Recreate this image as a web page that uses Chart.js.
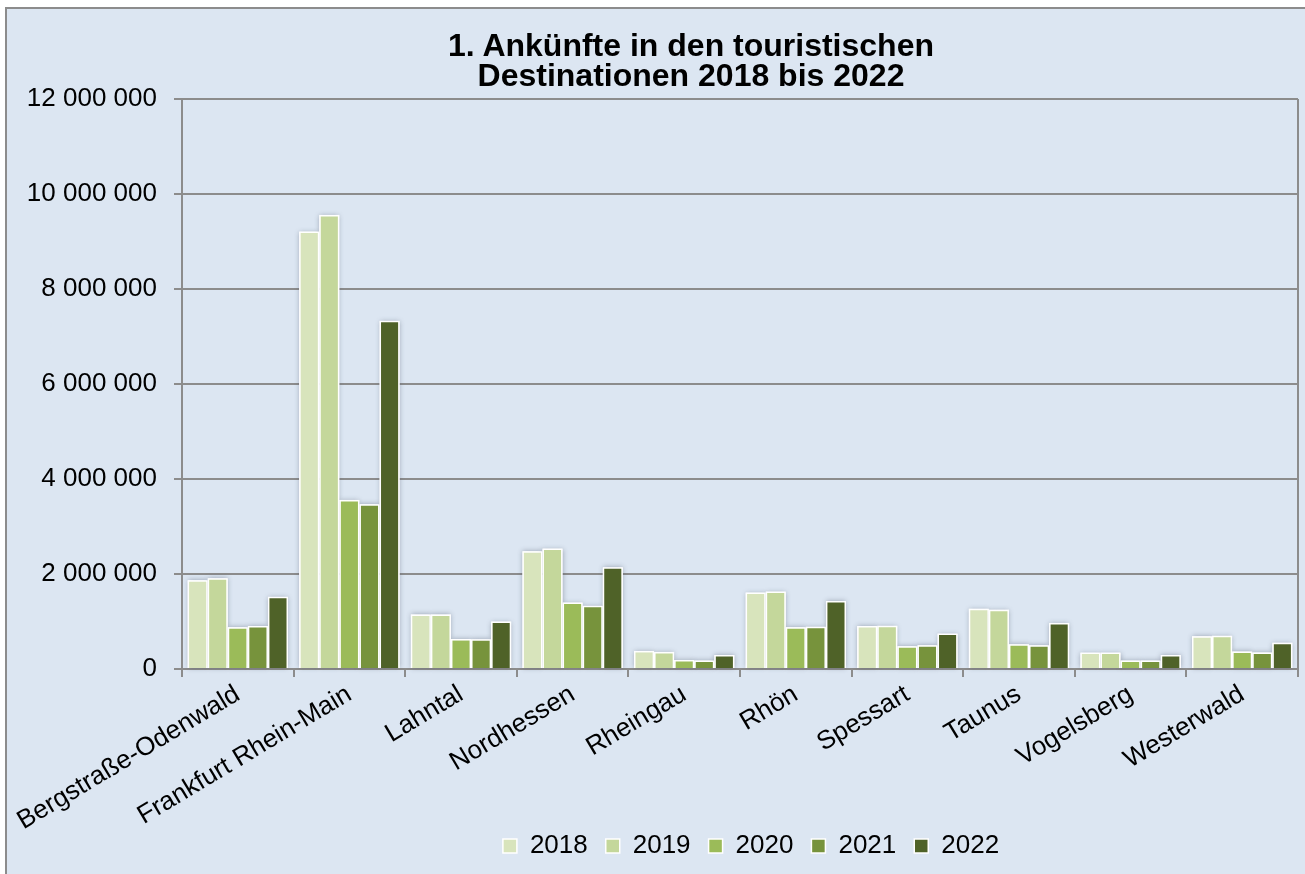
<!DOCTYPE html>
<html><head><meta charset="utf-8">
<script src="https://cdn.jsdelivr.net/npm/chart.js@4"></script>
<style>
html,body{margin:0;padding:0;background:#fff;width:1305px;height:874px;overflow:hidden;}
#frame{position:absolute;left:5px;top:7px;width:1340px;height:900px;background:#DCE6F2;border-left:2px solid #8c8c8c;border-top:2px solid #8c8c8c;}
#wrap{position:absolute;left:0;top:0;width:1305px;height:874px;}
#title{position:absolute;left:0;width:1382px;top:30px;text-align:center;font:bold 32px 'Liberation Sans',Arial,sans-serif;line-height:30px;color:#000;}
</style></head><body>
<div id="frame"></div>
<div id="wrap"><canvas id="c" width="1305" height="874"></canvas></div>
<div id="title">1. Ankünfte in den touristischen<br>Destinationen 2018 bis 2022</div>
<script>
const categories = ['Bergstraße-Odenwald','Frankfurt Rhein-Main','Lahntal','Nordhessen','Rheingau','Rhön','Spessart','Taunus','Vogelsberg','Westerwald'];
const seriesNames = ['2018','2019','2020','2021','2022'];
const v2018 = [1870000, 9210000, 1150000, 2480000, 380000, 1610000, 905000, 1270000, 345000, 690000];
const v2019 = [1910000, 9560000, 1150000, 2535000, 360000, 1630000, 910000, 1250000, 345000, 700000];
const v2020 = [880000, 3560000, 630000, 1400000, 190000, 880000, 480000, 520000, 180000, 370000];
const v2021 = [905000, 3470000, 625000, 1330000, 180000, 890000, 500000, 500000, 180000, 350000];
const v2022 = [1520000, 7330000, 1000000, 2140000, 295000, 1430000, 745000, 970000, 295000, 555000];
const yTickValues = [0, 2000000, 4000000, 6000000, 8000000, 10000000, 12000000];

const colors = ['#D8E4BC','#C4D79B','#9BBB59','#77933C','#4F6228'];
const seriesValues = [v2018, v2019, v2020, v2021, v2022];
const GRID = '#8c8c8c';
const FONT = "'Liberation Sans', Arial, sans-serif";

function fmt(v){ return String(v).replace(/\B(?=(\d{3})+(?!\d))/g, ' '); }

const plotBorder = {
  id: 'plotBorder',
  afterLayout(chart){
    const lg = chart.legend; if (lg){ lg.left += 11; lg.right += 11; }
    const xs = chart.scales.x; if (xs) xs.bottom = chart.height;
  },
  beforeDatasetsDraw(chart){
    const ctx = chart.ctx;
    ctx.save();
    ctx.shadowColor = 'rgba(70,80,100,0.45)';
    ctx.shadowBlur = 5;
    ctx.shadowOffsetX = 0; ctx.shadowOffsetY = 0;
    ctx.fillStyle = '#ffffff';
    chart.data.datasets.forEach((d, i) => {
      const meta = chart.getDatasetMeta(i);
      meta.data.forEach(el => {
        const p = el.getProps(['x','y','base','width'], true);
        ctx.fillRect(p.x - p.width/2, p.y, p.width, p.base - p.y);
      });
    });
    ctx.restore();
  },
  afterDraw(chart){
    const a = chart.chartArea, ctx = chart.ctx;
    ctx.save();
    ctx.strokeStyle = GRID; ctx.lineWidth = 2;
    ctx.beginPath(); ctx.moveTo(a.right, a.top); ctx.lineTo(a.right, a.bottom); ctx.stroke();
    ctx.restore();
  }
};

new Chart(document.getElementById('c'), {
  type: 'bar',
  data: {
    labels: categories,
    datasets: seriesNames.map((n,i)=>({
      label: n,
      data: seriesValues[i],
      backgroundColor: colors[i],
      borderColor: '#ffffff',
      borderWidth: 1.5,
      categoryPercentage: 0.9,
      barPercentage: 1.0
    }))
  },
  options: {
    responsive: false,
    animation: false,
    layout: { padding: { top: 99, right: 7, left: 0, bottom: 5 } },
    plugins: {
      title: { display: false },
      tooltip: { enabled: false },
      legend: {
        position: 'bottom',
        fullSize: false,
        labels: { font: { family: FONT, size: 26 }, color: '#000', boxWidth: 14, boxHeight: 14, padding: 18 }
      }
    },
    scales: {
      x: {
        grid: { display: true, drawOnChartArea: false, drawTicks: true, tickLength: 8, color: GRID, lineWidth: 2 },
        border: { display: true, color: GRID, width: 2 },
        ticks: { font: { family: FONT, size: 26 }, color: '#000', minRotation: 31, maxRotation: 31, autoSkip: false, padding: 2 },
        afterFit(s){ s.height = 146; s.paddingLeft = 0; s.paddingRight = 0; }
      },
      y: {
        min: 0, max: 12000000,
        afterBuildTicks(s){ s.ticks = yTickValues.map(v=>({value:v})); },
        grid: { color: GRID, lineWidth: 2, tickLength: 8, drawTicks: true },
        border: { display: true, color: GRID, width: 2 },
        ticks: { font: { family: FONT, size: 26 }, color: '#000', padding: 17, callback: v => fmt(v) },
        afterFit(s){ s.width = 182; s.paddingTop = 0; s.paddingBottom = 0; }
      }
    }
  },
  plugins: [plotBorder]
});
</script>
</body></html>
